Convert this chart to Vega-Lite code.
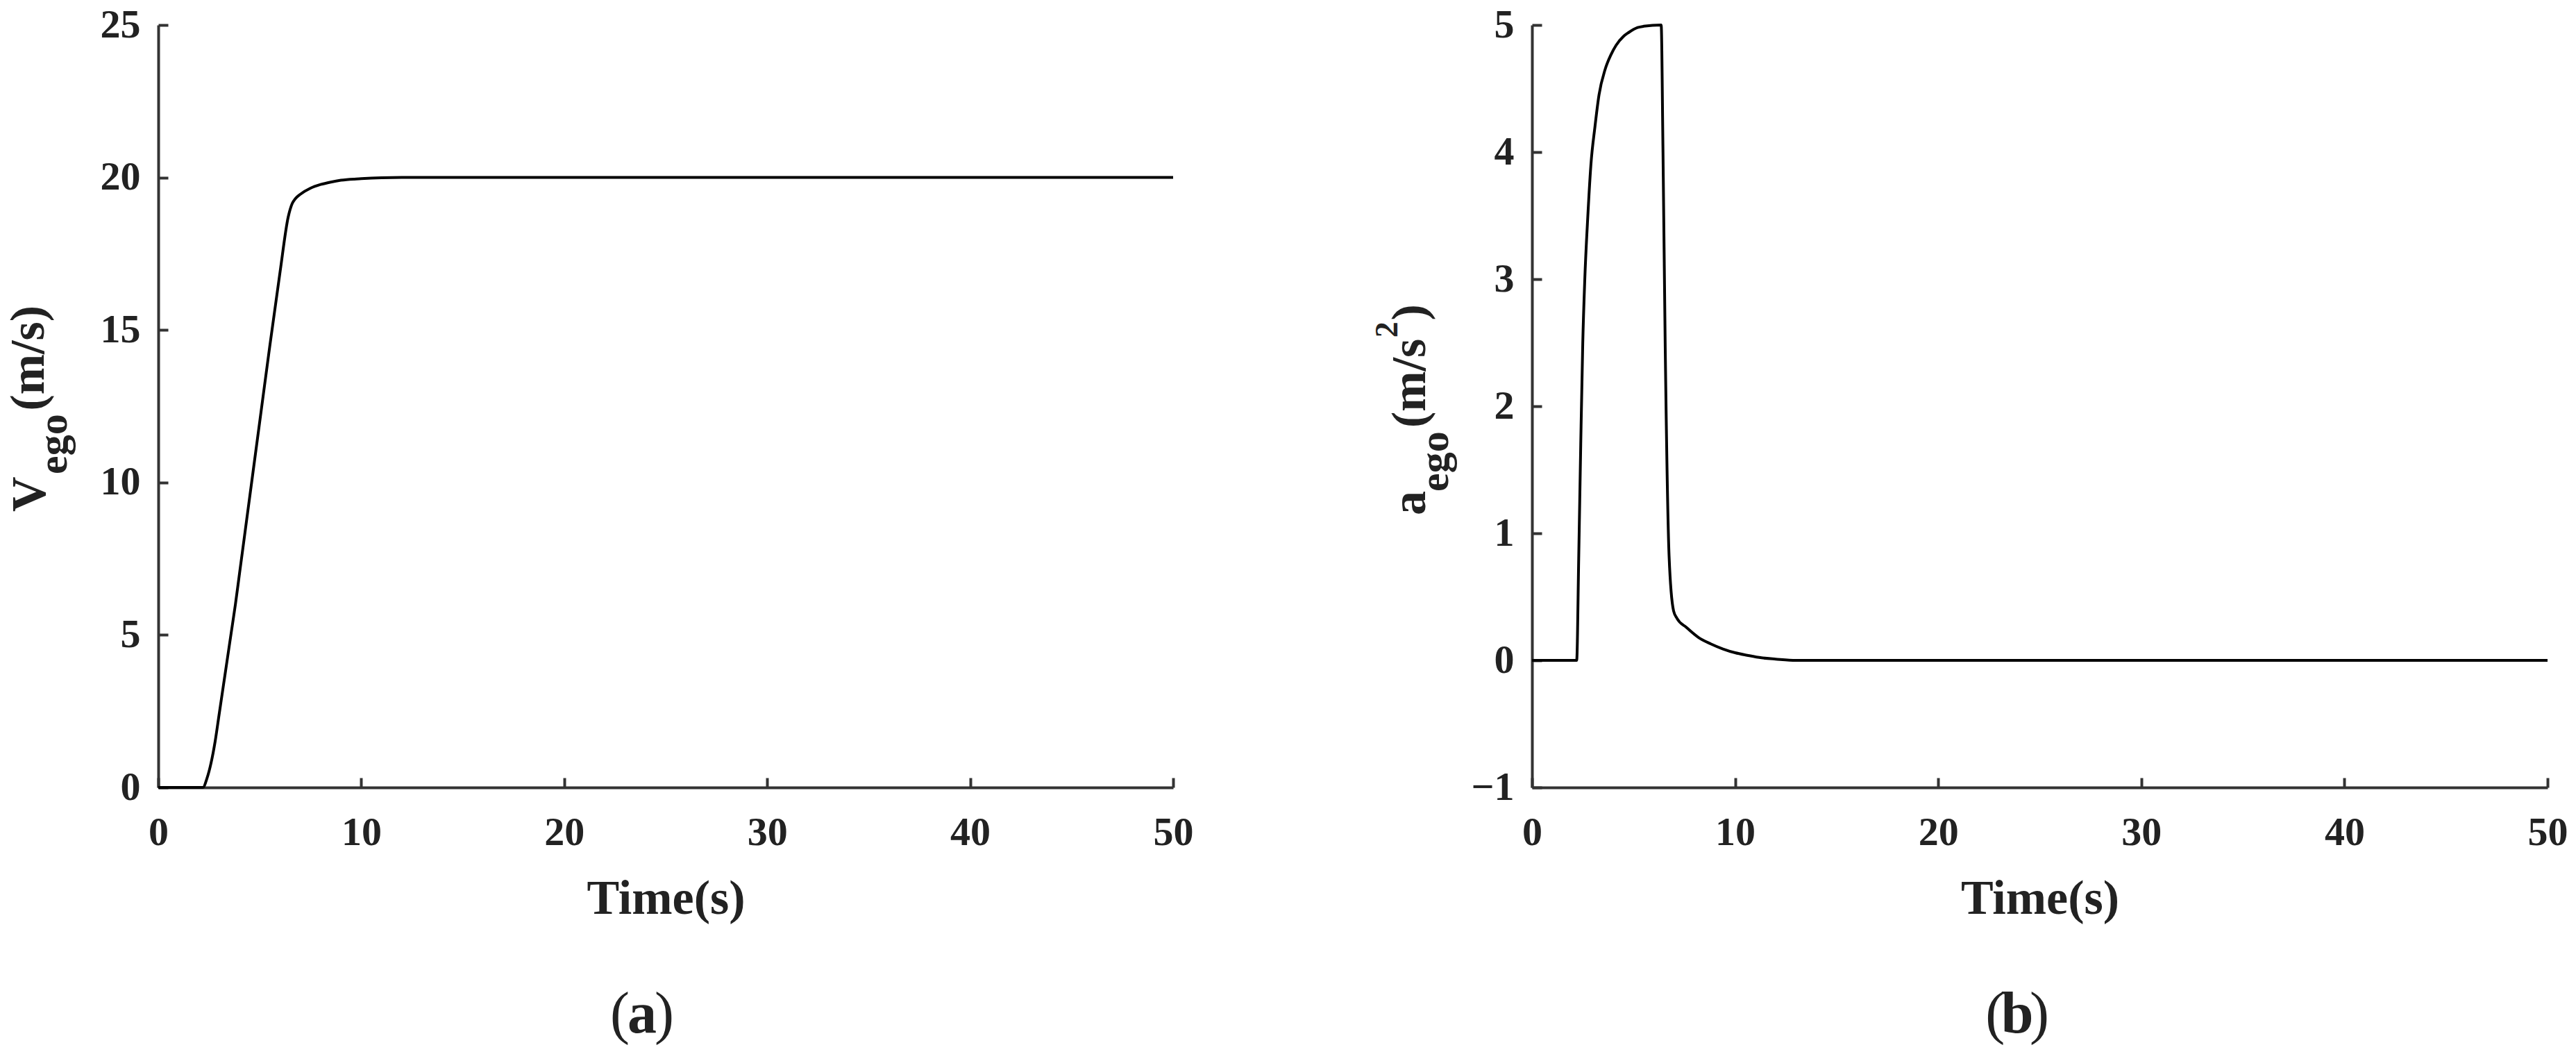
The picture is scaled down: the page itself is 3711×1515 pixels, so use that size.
{
  "$schema": "https://vega.github.io/schema/vega-lite/v6.json",
  "background": "white",
  "padding": {"left": 7, "top": 7, "right": 5, "bottom": 5},
  "spacing": 517,
  "bounds": "flush",
  "datasets": {
    "vel": [
      {"t": 0, "v": 0}, {"t": 2.2, "v": 0}, {"t": 2.4, "v": 0.3}, {"t": 2.6, "v": 0.8}, {"t": 2.8, "v": 1.5},
      {"t": 3.0, "v": 2.4}, {"t": 3.2, "v": 3.3}, {"t": 3.4, "v": 4.2}, {"t": 3.6, "v": 5.1}, {"t": 3.8, "v": 6.0},
      {"t": 4.0, "v": 7.0}, {"t": 4.5, "v": 9.5}, {"t": 5.0, "v": 12.0}, {"t": 5.5, "v": 14.5}, {"t": 6.0, "v": 16.9},
      {"t": 6.4, "v": 18.7}, {"t": 6.6, "v": 19.15}, {"t": 6.75, "v": 19.3}, {"t": 7.0, "v": 19.45}, {"t": 7.5, "v": 19.65},
      {"t": 8.0, "v": 19.77}, {"t": 8.5, "v": 19.85}, {"t": 9.0, "v": 19.91}, {"t": 10, "v": 19.96}, {"t": 11, "v": 19.99},
      {"t": 12, "v": 20}, {"t": 50, "v": 20}
    ],
    "acc": [
      {"t": 0, "a": 0}, {"t": 2.2, "a": 0}, {"t": 2.3, "a": 0.8}, {"t": 2.4, "a": 1.7}, {"t": 2.5, "a": 2.5},
      {"t": 2.6, "a": 3.0}, {"t": 2.75, "a": 3.5}, {"t": 2.9, "a": 3.9}, {"t": 3.1, "a": 4.2}, {"t": 3.3, "a": 4.45},
      {"t": 3.6, "a": 4.65}, {"t": 3.9, "a": 4.77}, {"t": 4.14, "a": 4.84}, {"t": 4.5, "a": 4.91}, {"t": 4.75, "a": 4.94},
      {"t": 5.2, "a": 4.98}, {"t": 5.5, "a": 4.99}, {"t": 6.36, "a": 5.0}, {"t": 6.45, "a": 4.0}, {"t": 6.56, "a": 2.46},
      {"t": 6.75, "a": 0.82}, {"t": 6.97, "a": 0.39}, {"t": 7.14, "a": 0.33}, {"t": 7.6, "a": 0.26}, {"t": 8.2, "a": 0.18},
      {"t": 8.8, "a": 0.13}, {"t": 9.4, "a": 0.09}, {"t": 10.0, "a": 0.06}, {"t": 10.6, "a": 0.04}, {"t": 11.3, "a": 0.02},
      {"t": 12, "a": 0.01}, {"t": 13, "a": 0}, {"t": 50, "a": 0}
    ]
  },
  "hconcat": [
    {
      "width": 1462,
      "height": 1098,
      "layer": [
        {
          "data": {"name": "vel"},
          "mark": {"type": "line", "color": "#000000", "strokeWidth": 4, "interpolate": "monotone"},
          "encoding": {
            "x": {"field": "t", "type": "quantitative", "scale": {"domain": [0, 50], "nice": false},
                  "axis": {"title": "Time(s)", "values": [0, 10, 20, 30, 40, 50], "format": "d"}},
            "y": {"field": "v", "type": "quantitative", "scale": {"domain": [0, 25], "nice": false},
                  "axis": {"title": null, "values": [0, 5, 10, 15, 20, 25], "format": "d"}}
          }
        },
        {
          "data": {"values": [{}]},
          "mark": {"type": "text", "text": "V", "angle": 270, "align": "left", "baseline": "alphabetic", "font": "Liberation Serif", "fontWeight": "bold", "fontSize": 70, "color": "#222222"},
          "encoding": {"x": {"datum": -5.57, "type": "quantitative"}, "y": {"datum": 9.04, "type": "quantitative"}}
        },
        {
          "data": {"values": [{}]},
          "mark": {"type": "text", "text": "ego", "angle": 270, "align": "left", "baseline": "alphabetic", "font": "Liberation Serif", "fontWeight": "bold", "fontSize": 60, "color": "#222222"},
          "encoding": {"x": {"datum": -4.51, "type": "quantitative"}, "y": {"datum": 10.27, "type": "quantitative"}}
        },
        {
          "data": {"values": [{}]},
          "mark": {"type": "text", "text": "(m/s)", "angle": 270, "align": "left", "baseline": "alphabetic", "font": "Liberation Serif", "fontWeight": "bold", "fontSize": 70, "color": "#222222"},
          "encoding": {"x": {"datum": -5.64, "type": "quantitative"}, "y": {"datum": 12.35, "type": "quantitative"}}
        },
        {
          "data": {"values": [{}]},
          "mark": {"type": "text", "text": "(", "align": "center", "baseline": "alphabetic", "font": "Liberation Serif", "fontSize": 84, "color": "#222222"},
          "encoding": {"x": {"datum": 22.74, "type": "quantitative"}, "y": {"datum": -8.04, "type": "quantitative"}}
        },
        {
          "data": {"values": [{}]},
          "mark": {"type": "text", "text": "a", "align": "center", "baseline": "alphabetic", "font": "Liberation Serif", "fontWeight": "bold", "fontSize": 84, "color": "#222222"},
          "encoding": {"x": {"datum": 23.84, "type": "quantitative"}, "y": {"datum": -8.04, "type": "quantitative"}}
        },
        {
          "data": {"values": [{}]},
          "mark": {"type": "text", "text": ")", "align": "center", "baseline": "alphabetic", "font": "Liberation Serif", "fontSize": 84, "color": "#222222"},
          "encoding": {"x": {"datum": 24.93, "type": "quantitative"}, "y": {"datum": -8.04, "type": "quantitative"}}
        }
      ]
    },
    {
      "width": 1463,
      "height": 1098,
      "layer": [
        {
          "data": {"name": "acc"},
          "mark": {"type": "line", "color": "#000000", "strokeWidth": 4, "interpolate": "monotone"},
          "encoding": {
            "x": {"field": "t", "type": "quantitative", "scale": {"domain": [0, 50], "nice": false},
                  "axis": {"title": "Time(s)", "values": [0, 10, 20, 30, 40, 50], "format": "d"}},
            "y": {"field": "a", "type": "quantitative", "scale": {"domain": [-1, 5], "nice": false},
                  "axis": {"title": null, "values": [-1, 0, 1, 2, 3, 4, 5], "format": "d"}}
          }
        },
        {
          "data": {"values": [{}]},
          "mark": {"type": "text", "text": "a", "angle": 270, "align": "left", "baseline": "alphabetic", "font": "Liberation Serif", "fontWeight": "bold", "fontSize": 70, "color": "#222222"},
          "encoding": {"x": {"datum": -5.26, "type": "quantitative"}, "y": {"datum": 1.142, "type": "quantitative"}}
        },
        {
          "data": {"values": [{}]},
          "mark": {"type": "text", "text": "ego", "angle": 270, "align": "left", "baseline": "alphabetic", "font": "Liberation Serif", "fontWeight": "bold", "fontSize": 60, "color": "#222222"},
          "encoding": {"x": {"datum": -4.14, "type": "quantitative"}, "y": {"datum": 1.328, "type": "quantitative"}}
        },
        {
          "data": {"values": [{}]},
          "mark": {"type": "text", "text": "(m/s", "angle": 270, "align": "left", "baseline": "alphabetic", "font": "Liberation Serif", "fontWeight": "bold", "fontSize": 70, "color": "#222222"},
          "encoding": {"x": {"datum": -5.26, "type": "quantitative"}, "y": {"datum": 1.83, "type": "quantitative"}}
        },
        {
          "data": {"values": [{}]},
          "mark": {"type": "text", "text": "2", "angle": 270, "align": "left", "baseline": "alphabetic", "font": "Liberation Serif", "fontWeight": "bold", "fontSize": 46, "color": "#222222"},
          "encoding": {"x": {"datum": -6.63, "type": "quantitative"}, "y": {"datum": 2.54, "type": "quantitative"}}
        },
        {
          "data": {"values": [{}]},
          "mark": {"type": "text", "text": ")", "angle": 270, "align": "left", "baseline": "alphabetic", "font": "Liberation Serif", "fontWeight": "bold", "fontSize": 70, "color": "#222222"},
          "encoding": {"x": {"datum": -5.26, "type": "quantitative"}, "y": {"datum": 2.675, "type": "quantitative"}}
        },
        {
          "data": {"values": [{}]},
          "mark": {"type": "text", "text": "(", "align": "center", "baseline": "alphabetic", "font": "Liberation Serif", "fontSize": 84, "color": "#222222"},
          "encoding": {"x": {"datum": 22.8, "type": "quantitative"}, "y": {"datum": -2.93, "type": "quantitative"}}
        },
        {
          "data": {"values": [{}]},
          "mark": {"type": "text", "text": "b", "align": "center", "baseline": "alphabetic", "font": "Liberation Serif", "fontWeight": "bold", "fontSize": 84, "color": "#222222"},
          "encoding": {"x": {"datum": 23.89, "type": "quantitative"}, "y": {"datum": -2.93, "type": "quantitative"}}
        },
        {
          "data": {"values": [{}]},
          "mark": {"type": "text", "text": ")", "align": "center", "baseline": "alphabetic", "font": "Liberation Serif", "fontSize": 84, "color": "#222222"},
          "encoding": {"x": {"datum": 24.98, "type": "quantitative"}, "y": {"datum": -2.93, "type": "quantitative"}}
        }
      ]
    }
  ],
  "config": {
    "view": {"stroke": null},
    "axis": {
      "grid": false,
      "domainColor": "#333333",
      "domainWidth": 4,
      "tickColor": "#333333",
      "tickWidth": 4,
      "tickSize": -14,
      "labelFont": "Liberation Serif",
      "labelFontSize": 58,
      "labelFontWeight": "bold",
      "labelColor": "#222222",
      "labelFlush": false,
      "labelOverlap": false,
      "titleFont": "Liberation Serif",
      "titleFontWeight": "bold",
      "titleFontSize": 70,
      "titleColor": "#222222"
    },
    "axisX": {"labelPadding": 50, "titleY": 181, "titleBaseline": "alphabetic"},
    "axisY": {"labelPadding": 40}
  }
}
